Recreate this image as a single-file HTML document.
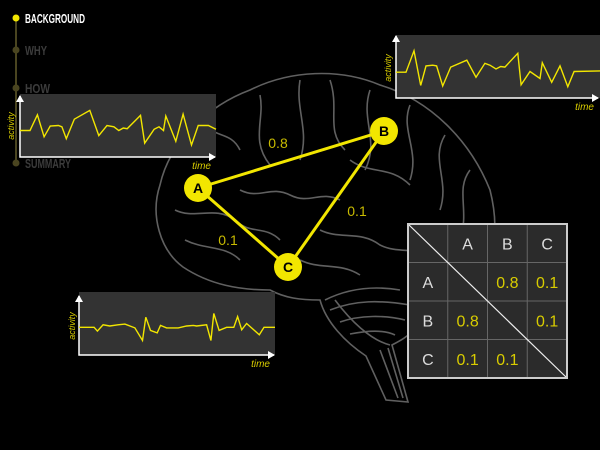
<!DOCTYPE html>
<html><head><meta charset="utf-8">
<style>
body{margin:0;background:#000;width:600px;height:450px;overflow:hidden;font-family:"Liberation Sans",sans-serif}
svg{display:block}
</style></head>
<body>
<svg id="s" width="600" height="450" viewBox="0 0 600 450" xmlns="http://www.w3.org/2000/svg">
<rect width="600" height="450" fill="#000"/>
<g fill="none" stroke="#606060" stroke-width="1.6">
<path d="M183,267 C160,250 150,215 160,185 C170,140 210,105 250,90 C290,70 340,68 380,85 C430,100 470,140 490,190 C500,230 495,260 470,282 C450,292 435,296 430,300 C422,330 405,338 392,345 L408,402 L386,400 L366,356 C345,342 326,322 320,300 C300,300 285,298 270,290 C240,290 210,285 183,267 Z"/>
<path d="M200,120 C215,140 230,130 240,150 M260,95 C265,120 250,140 270,165 M300,80 C295,110 310,130 300,160 M330,80 C340,110 325,130 345,150 M370,90 C360,120 380,140 365,170 M410,105 C400,130 420,150 410,180 M445,135 C430,160 450,180 440,210 M470,170 C455,190 470,210 460,240"/>
<path d="M175,210 C195,220 215,205 235,220 C250,235 265,225 280,240 M185,240 C205,250 225,245 240,260 M240,190 C260,200 270,185 290,195 C310,205 320,190 340,200 M320,230 C340,240 360,230 380,245 C400,255 420,245 440,260 M300,260 C320,270 340,262 360,275 M350,160 C370,175 390,165 410,185"/>
<path d="M325,300 C345,290 370,285 400,290 M330,310 C355,300 380,300 410,305 M340,322 C360,315 385,315 405,320 M350,334 C370,330 385,330 395,335 M335,300 C350,320 370,340 390,345"/>
<path d="M380,350 L398,398 M388,348 L403,398"/>
</g>
<g>
<line x1="16" y1="18" x2="16" y2="165" stroke="#4a4520" stroke-width="2"/>
<circle cx="16" cy="18" r="3.5" fill="#f2e600"/>
<circle cx="16" cy="50" r="3.5" fill="#4a4520"/>
<circle cx="16" cy="88" r="3.5" fill="#4a4520"/>
<circle cx="16" cy="163" r="3.5" fill="#4a4520"/>
<g font-family="'Liberation Sans',sans-serif" font-size="13" font-weight="bold">
<text x="25" y="23" fill="#fff" textLength="60" lengthAdjust="spacingAndGlyphs">BACKGROUND</text>
<text x="25" y="55" fill="#3c3c3c" textLength="22" lengthAdjust="spacingAndGlyphs">WHY</text>
<text x="25" y="93" fill="#3c3c3c" textLength="25" lengthAdjust="spacingAndGlyphs">HOW</text>
<text x="25" y="168" fill="#3c3c3c" textLength="46" lengthAdjust="spacingAndGlyphs">SUMMARY</text>
</g>
</g>
<g id="plots"></g>
<g id="net"></g>
<g id="matrix"></g>
</svg>
<script>
const NS="http://www.w3.org/2000/svg";
const plot1Time=[0,5.1,8.9,12.3,15.4,19.6,21.4,23.6,27.7,35.6,40.2,44.4,47.9,50.4,52.7,54.7,61.5,63.6,68.4,70.9,73.2,74.4,79.5,83.2,87.5,90.9,96.1,100];
const plot1Act=[4.2,4.2,6.7,3.2,4.9,5.0,4.8,2.9,6.0,7.4,3.4,5.0,4.8,4.2,4.6,4.5,6.6,2.2,4.4,4.8,4.2,6.5,2.5,6.8,1.9,5.0,5.0,4.4];
const plot2Time=[0,4.9,8.8,12.1,14.7,18.0,19.9,22.9,26.8,34.7,39.2,43.6,46.1,49.0,51.3,53.4,59.7,61.3,65.7,70.6,71.7,76.3,80.4,84.2,87.3,100];
const plot2Act=[4.1,4.1,7.5,2.0,5.1,5.2,5.1,1.9,4.9,6.0,3.3,5.5,5.2,4.6,5.0,4.9,7.1,2.1,4.2,3.1,5.6,2.5,5.1,1.8,4.2,4.3];
const plot3Time=[0,7.7,9.4,12.3,15.7,19.9,23.4,28.5,32.4,34.1,36.5,39.9,41.6,44.7,50.6,54.9,58.3,60.0,65.1,67.3,68.8,71.5,75.3,79.0,80.9,83.0,85.5,92.0,94.4,100];
const plot3Act=[4.4,4.4,3.8,4.8,4.6,4.8,4.9,4.3,2.3,6.0,3.9,3.5,4.7,4.3,4.3,4.6,4.7,4.6,4.8,2.3,6.6,3.9,4.4,4.4,6.1,4.0,5.0,3.2,4.4,4.4];
const nodeNames=["A","B","C"];
const matrixVals=[[null,0.8,0.1],[0.8,null,0.1],[0.1,0.1,null]];

function mk(tag,attrs,parent){const e=document.createElementNS(NS,tag);for(const k in attrs)e.setAttribute(k,attrs[k]);parent.appendChild(e);return e;}
const plots=document.getElementById('plots');
function drawPlot(name,times,acts,x0,y0,x1,yTop,boxRight,boxTop,ylab){
  const g=mk('g',{},plots);
  
  
  const bg=mk('rect',{x:x0,y:boxTop,width:boxRight-x0,height:y0-boxTop,fill:'#333'},g);
  
  
  const ax=mk('path',{d:`M${x0},${yTop} L${x0},${y0} L${x1},${y0}`,fill:'none',stroke:'#fff','stroke-width':1.5},g);
  
  
  mk('polygon',{points:`${x0-4},${yTop+6} ${x0+4},${yTop+6} ${x0},${yTop-1}`,fill:'#fff'},g);
  mk('polygon',{points:`${x1-6},${y0-4} ${x1-6},${y0+4} ${x1+1},${y0}`,fill:'#fff'},g);
  const sx=t=>x0+t/100*(boxRight-x0), sy=a=>y0-a/10*(y0-boxTop);
  const pts=times.map((t,i)=>sx(t).toFixed(1)+','+sy(acts[i]).toFixed(1)).join(' ');
  const l=mk('polyline',{points:pts,fill:'none',stroke:'#f2e600','stroke-width':1.4,'stroke-linejoin':'miter'},g);
  
  
  const tl=mk('text',{x:x1-4,y:y0+12,fill:'#d8cc00','font-size':10,'font-style':'italic','text-anchor':'end'},g);
  tl.textContent='time';
  
  
  const yl=mk('text',{x:0,y:0,fill:'#d8cc00','font-size':9,'font-style':'italic','text-anchor':'middle',transform:`translate(${ylab[0]},${ylab[1]}) rotate(-90)`},g);
  yl.textContent='activity';
  
  
}
drawPlot('activity-plot-a',plot1Time,plot1Act,20,157,215,96,216,94,[14,126]);
drawPlot('activity-plot-b',plot2Time,plot2Act,396,98,598,36,600,35,[391,68]);
drawPlot('activity-plot-c',plot3Time,plot3Act,79,355,274,296,275,292,[75,326]);

const net=document.getElementById('net');
const nodePos={A:[198,188],B:[384,131],C:[288,267]};
const edges=[["A","B",0,1],["A","C",0,2],["B","C",1,2]];
const edgeLabelPos={"A-B":[278,148],"A-C":[228,245],"B-C":[357,216]};
edges.forEach(e=>{
  const [a,b,i,j]=e,p=nodePos[a],q=nodePos[b];
  const ln=mk('line',{x1:p[0],y1:p[1],x2:q[0],y2:q[1],stroke:'#f2e600','stroke-width':3},net);
  
  
  const lp=edgeLabelPos[a+'-'+b];
  const t=mk('text',{x:lp[0],y:lp[1],fill:'#c8bb00','font-size':14,'text-anchor':'middle'},net);
  t.textContent=matrixVals[i][j];
  
  
});
nodeNames.forEach(n=>{
  const p=nodePos[n];
  const c=mk('circle',{cx:p[0],cy:p[1],r:14,fill:'#f2e600'},net);
  
  
  const t=mk('text',{x:p[0],y:p[1]+5,fill:'#000','font-size':14,'font-weight':'bold','text-anchor':'middle'},net);
  t.textContent=n;
  
  
});

const mg=document.getElementById('matrix');


const mx=408,my=224,cw=39.75,ch=38.5;
mk('rect',{x:mx,y:my,width:cw*4,height:ch*4,fill:'#2b2b2b'},mg);
for(let k=1;k<4;k++){
  mk('line',{x1:mx+k*cw,y1:my,x2:mx+k*cw,y2:my+4*ch,stroke:'#666','stroke-width':1},mg);
  mk('line',{x1:mx,y1:my+k*ch,x2:mx+4*cw,y2:my+k*ch,stroke:'#666','stroke-width':1},mg);
}
mk('line',{x1:mx,y1:my,x2:mx+4*cw,y2:my+4*ch,stroke:'#eee','stroke-width':1.2},mg);
mk('rect',{x:mx,y:my,width:cw*4,height:ch*4,fill:'none',stroke:'#ccc','stroke-width':2},mg);
nodeNames.forEach((n,i)=>{
  const h=mk('text',{x:mx+(i+1.5)*cw,y:my+0.5*ch+6,fill:'#ddd','font-size':16,'text-anchor':'middle'},mg);
  h.textContent=n;
  
  
  const r=mk('text',{x:mx+0.5*cw,y:my+(i+1.5)*ch+6,fill:'#ddd','font-size':16,'text-anchor':'middle'},mg);
  r.textContent=n;
  
  
});
matrixVals.forEach((row,i)=>row.forEach((v,j)=>{
  if(v===null)return;
  const t=mk('text',{x:mx+(j+1.5)*cw,y:my+(i+1.5)*ch+6,fill:'#d8cc00','font-size':16,'text-anchor':'middle'},mg);
  t.textContent=v;
  
  
}));
</script>
</body></html>
